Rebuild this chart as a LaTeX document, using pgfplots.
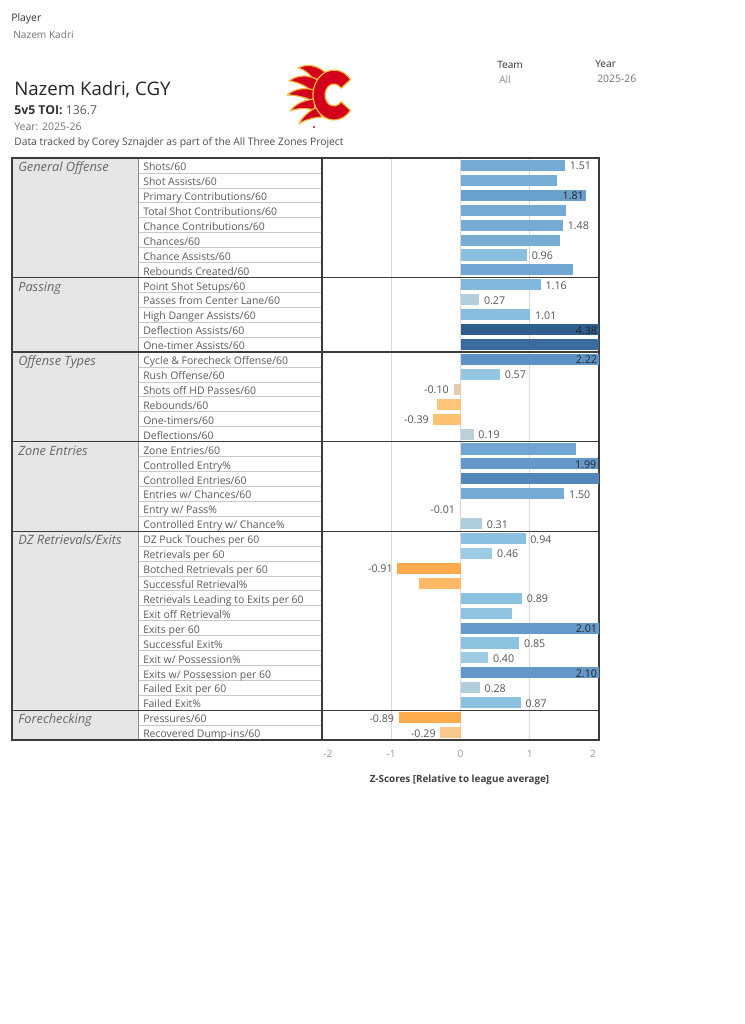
\documentclass[border=0pt]{standalone}
\usepackage{pgfplots}
\pgfplotsset{compat=1.18}
\usepackage{fontspec}
\setmainfont{Open Sans}
\newcommand{\fs}[1]{\fontsize{#1}{#1}\selectfont}
\definecolor{labc}{HTML}{555555}
\definecolor{tickc}{HTML}{999999}
\definecolor{gridc}{HTML}{D9D9D9}
\definecolor{borderc}{HTML}{3C3C3C}
\definecolor{rowsepc}{HTML}{C8C8C8}
\definecolor{groupfill}{HTML}{E6E6E6}
\definecolor{rowtext}{HTML}{5A5A5A}
\definecolor{inlabc}{HTML}{262626}
\definecolor{flred}{HTML}{D2001C}
\definecolor{flyel}{HTML}{F3BC3F}
\definecolor{b0}{HTML}{74AAD4}
\definecolor{b1}{HTML}{77ACD5}
\definecolor{b2}{HTML}{6AA0CC}
\definecolor{b3}{HTML}{74AAD4}
\definecolor{b4}{HTML}{75ABD5}
\definecolor{b5}{HTML}{77ACD5}
\definecolor{b6}{HTML}{8ABFE0}
\definecolor{b7}{HTML}{71A7D2}
\definecolor{b8}{HTML}{82B8DE}
\definecolor{b9}{HTML}{B3CFDB}
\definecolor{b10}{HTML}{88BDE0}
\definecolor{b11}{HTML}{2E5E8D}
\definecolor{b12}{HTML}{3A6B9C}
\definecolor{b13}{HTML}{5D93C4}
\definecolor{b14}{HTML}{92C6E3}
\definecolor{b15}{HTML}{E3CDAE}
\definecolor{b16}{HTML}{FDC47A}
\definecolor{b17}{HTML}{FDC170}
\definecolor{b18}{HTML}{BDD0D7}
\definecolor{b19}{HTML}{70A6D1}
\definecolor{b20}{HTML}{6499C9}
\definecolor{b21}{HTML}{5487B9}
\definecolor{b22}{HTML}{75ABD5}
\definecolor{b23}{HTML}{D9D2C8}
\definecolor{b24}{HTML}{AECEDD}
\definecolor{b25}{HTML}{8BC0E0}
\definecolor{b26}{HTML}{9BCBE5}
\definecolor{b27}{HTML}{FCAA4C}
\definecolor{b28}{HTML}{FDB966}
\definecolor{b29}{HTML}{8DC1E0}
\definecolor{b30}{HTML}{8FC3E1}
\definecolor{b31}{HTML}{6499C9}
\definecolor{b32}{HTML}{8DC1E0}
\definecolor{b33}{HTML}{9ECCE4}
\definecolor{b34}{HTML}{6297C7}
\definecolor{b35}{HTML}{B0CEDB}
\definecolor{b36}{HTML}{8DC1E0}
\definecolor{b37}{HTML}{FCAB4D}
\definecolor{b38}{HTML}{F6C88B}
\pgfplotsset{
  bb/.style={xbar, bar width=0.74, bar shift=0pt, draw=none, fill=#1},
  lr/.style={nodes near coords, point meta=explicit symbolic, nodes near coords align={anchor=west},
    every node near coord/.append style={font=\fs{8}, text=labc, inner sep=1pt, xshift=2.4pt, yshift=-0.5pt}},
  ll/.style={nodes near coords, point meta=explicit symbolic, nodes near coords align={anchor=east},
    every node near coord/.append style={font=\fs{8}, text=labc, inner sep=1pt, xshift=-2.4pt, yshift=-0.5pt}},
  li/.style={nodes near coords, point meta=explicit symbolic, nodes near coords align={anchor=east},
    every node near coord/.append style={font=\fs{8}, text=inlabc, inner sep=1pt, xshift=-0.3pt, yshift=-0.5pt}},
}
\newcommand{\RL}[2]{\node[anchor=base west, font=\fs{7.85}, text=rowtext, inner sep=0pt] at (143,{158+14.923*(#1+0.5)+5.2}) {#2};}
\newcommand{\GL}[2]{\node[anchor=base west, font=\fs{9.6}\itshape, text=black!60, inner sep=0pt] at (18,{158+14.923*(#1+0.5)+6.3}) {#2};}
\begin{document}
\begin{tikzpicture}
\path[use as bounding box, fill=white] (0,0) rectangle (558pt,-768pt);
\begin{scope}[x=0.75pt,y=-0.75pt]
  % header
  \node[anchor=base west, font=\fs{7.8}, text=black!80, inner sep=0pt] at (11,22) {Player};
  \node[anchor=base west, font=\fs{7.6}, text=black!55, inner sep=0pt] at (13,39) {Nazem Kadri};
  \node[anchor=base west, font=\fs{7.6}, text=black!80, inner sep=0pt] at (497,69) {Team};
  \node[anchor=base west, font=\fs{7.6}, text=black!45, inner sep=0pt] at (499,84) {All};
  \node[anchor=base west, font=\fs{7.6}, text=black!80, inner sep=0pt] at (595,68) {Year};
  \node[anchor=base west, font=\fs{7.8}, text=black!55, inner sep=0pt] at (597,83) {2025-26};
  \node[anchor=base west, font=\fs{14}, text=black!85, inner sep=0pt] at (14,95) {Nazem Kadri, CGY};
  \node[anchor=base west, font=\fs{9.2}, text=black!65, inner sep=0pt] at (14,114.5) {\textbf{\color{black!80}5v5 TOI:} 136.7};
  \node[anchor=base west, font=\fs{7.9}, text=black!55, inner sep=0pt] at (14,130) {Year: 2025-26};
  \node[anchor=base west, font=\fs{7.75}, text=black!70, inner sep=0pt] at (14,145) {Data tracked by Corey Sznajder as part of the All Three Zones Project};
  % logo
  \begin{scope}[fill=flred, draw=flyel, line width=0.9pt, line join=round]
    \filldraw (326,73) .. controls (316,64) and (306,64) .. (298,68) .. controls (306,70) and (312,76) .. (316,84) -- cycle;
    \filldraw (318,80) .. controls (308,74) and (297,75) .. (289,81) .. controls (298,82) and (306,86) .. (313,92) -- cycle;
    \filldraw (314,90) .. controls (304,87) and (294,89) .. (287,95) .. controls (296,95) and (304,97) .. (313,101) -- cycle;
    \filldraw (314,99) .. controls (304,100) and (295,104) .. (290,111) .. controls (298,108) and (306,108) .. (315,110) -- cycle;
    \filldraw (317,107) .. controls (309,111) and (302,117) .. (299,124) .. controls (306,119) and (313,118) .. (322,117) -- cycle;
    \filldraw ({334+21*cos(38)},{95+25*sin(38)}) arc[start angle=38,end angle=322,x radius=21,y radius=25]
      -- ({334+9*cos(322)},{95+11*sin(322)}) arc[start angle=322,end angle=38,x radius=9,y radius=11] -- cycle;
  \end{scope}
  \fill[flred] (314,127) circle (1.2);
  % left panel
  \fill[groupfill] (12,158) rectangle (138,740);
  \fill[white] (138,158) rectangle (322,740);
  \foreach \k in {1,...,38} \draw[rowsepc, line width=0.5pt] (138,{158+14.923*\k}) -- (322,{158+14.923*\k});
  \draw[black!45, line width=0.6pt] (138,158) -- (138,740);
  \GL{0}{General Offense}
  \GL{8}{Passing}
  \GL{13}{Offense Types}
  \GL{19}{Zone Entries}
  \GL{25}{DZ Retrievals/Exits}
  \GL{37}{Forechecking}
  \RL{0}{Shots/60}
  \RL{1}{Shot Assists/60}
  \RL{2}{Primary Contributions/60}
  \RL{3}{Total Shot Contributions/60}
  \RL{4}{Chance Contributions/60}
  \RL{5}{Chances/60}
  \RL{6}{Chance Assists/60}
  \RL{7}{Rebounds Created/60}
  \RL{8}{Point Shot Setups/60}
  \RL{9}{Passes from Center Lane/60}
  \RL{10}{High Danger Assists/60}
  \RL{11}{Deflection Assists/60}
  \RL{12}{One-timer Assists/60}
  \RL{13}{Cycle \& Forecheck Offense/60}
  \RL{14}{Rush Offense/60}
  \RL{15}{Shots off HD Passes/60}
  \RL{16}{Rebounds/60}
  \RL{17}{One-timers/60}
  \RL{18}{Deflections/60}
  \RL{19}{Zone Entries/60}
  \RL{20}{Controlled Entry\%}
  \RL{21}{Controlled Entries/60}
  \RL{22}{Entries w/ Chances/60}
  \RL{23}{Entry w/ Pass\%}
  \RL{24}{Controlled Entry w/ Chance\%}
  \RL{25}{DZ Puck Touches per 60}
  \RL{26}{Retrievals per 60}
  \RL{27}{Botched Retrievals per 60}
  \RL{28}{Successful Retrieval\%}
  \RL{29}{Retrievals Leading to Exits per 60}
  \RL{30}{Exit off Retrieval\%}
  \RL{31}{Exits per 60}
  \RL{32}{Successful Exit\%}
  \RL{33}{Exit w/ Possession\%}
  \RL{34}{Exits w/ Possession per 60}
  \RL{35}{Failed Exit per 60}
  \RL{36}{Failed Exit\%}
  \RL{37}{Pressures/60}
  \RL{38}{Recovered Dump-ins/60}
\end{scope}
\begin{axis}[
  at={(241.5pt,-555pt)}, anchor=south west,
  scale only axis, width=207.75pt, height=436.5pt,
  xmin=-2, xmax=2, ymin=-38.5, ymax=0.5,
  xtick={-2,-1,0,1,2},
  xticklabels={\hspace*{9pt}-2,-1,0,1,2\hspace*{9pt}},
  ytick=\empty,
  xmajorgrids, grid style={draw=gridc, line width=0.5pt},
  axis line style={draw=borderc, line width=0.8pt},
  major tick length=0pt,
  xticklabel style={font=\fs{7.6}, text=tickc, yshift=-4pt},
  clip mode=individual,
]
% General Offense
\addplot[bb=b0, lr] coordinates {(1.51,0) [1.51]};
\addplot[bb=b1] coordinates {(1.39,-1)};
\addplot[bb=b2] coordinates {(1.81,-2)};
\addplot[bb=b3] coordinates {(1.53,-3)};
\addplot[bb=b4, lr] coordinates {(1.48,-4) [1.48]};
\addplot[bb=b5] coordinates {(1.43,-5)};
\addplot[bb=b6, lr] coordinates {(0.96,-6) [0.96]};
\addplot[bb=b7] coordinates {(1.63,-7)};
% Passing
\addplot[bb=b8, lr] coordinates {(1.16,-8) [1.16]};
\addplot[bb=b9, lr] coordinates {(0.27,-9) [0.27]};
\addplot[bb=b10, lr] coordinates {(1.01,-10) [1.01]};
\addplot[bb=b11] coordinates {(4.38,-11)};
\addplot[bb=b12] coordinates {(3.30,-12)};
% Offense Types
\addplot[bb=b13] coordinates {(2.22,-13)};
\addplot[bb=b14, lr] coordinates {(0.57,-14) [0.57]};
\addplot[bb=b15, ll] coordinates {(-0.10,-15) [-0.10]};
\addplot[bb=b16] coordinates {(-0.34,-16)};
\addplot[bb=b17, ll] coordinates {(-0.39,-17) [-0.39]};
\addplot[bb=b18, lr] coordinates {(0.19,-18) [0.19]};
% Zone Entries
\addplot[bb=b19] coordinates {(1.67,-19)};
\addplot[bb=b20] coordinates {(1.99,-20)};
\addplot[bb=b21] coordinates {(2.60,-21)};
\addplot[bb=b22, lr] coordinates {(1.50,-22) [1.50]};
\addplot[bb=b23, ll] coordinates {(-0.01,-23) [-0.01]};
\addplot[bb=b24, lr] coordinates {(0.31,-24) [0.31]};
% DZ Retrievals/Exits
\addplot[bb=b25, lr] coordinates {(0.94,-25) [0.94]};
\addplot[bb=b26, lr] coordinates {(0.46,-26) [0.46]};
\addplot[bb=b27, ll] coordinates {(-0.91,-27) [-0.91]};
\addplot[bb=b28] coordinates {(-0.60,-28)};
\addplot[bb=b29, lr] coordinates {(0.89,-29) [0.89]};
\addplot[bb=b30] coordinates {(0.75,-30)};
\addplot[bb=b31] coordinates {(2.01,-31)};
\addplot[bb=b32, lr] coordinates {(0.85,-32) [0.85]};
\addplot[bb=b33, lr] coordinates {(0.40,-33) [0.40]};
\addplot[bb=b34] coordinates {(2.10,-34)};
\addplot[bb=b35, lr] coordinates {(0.28,-35) [0.28]};
\addplot[bb=b36, lr] coordinates {(0.87,-36) [0.87]};
% Forechecking
\addplot[bb=b37, ll] coordinates {(-0.89,-37) [-0.89]};
\addplot[bb=b38, ll] coordinates {(-0.29,-38) [-0.29]};
% labels set inside the bars
\addplot[draw=none, li] coordinates {(1.81,-2) [1.81] (2,-11) [4.38] (2,-13) [2.22] (1.99,-20) [1.99] (2,-31) [2.01] (2,-34) [2.10]};
\end{axis}
\begin{scope}[x=0.75pt,y=-0.75pt]
  \foreach \k in {8,13,19,25,37} \draw[borderc, line width=0.8pt] (12,{158+14.923*\k}) -- (599,{158+14.923*\k});
  \draw[borderc, line width=0.8pt] (322,158) -- (12,158) -- (12,740) -- (322,740);
  \node[font=\fs{7.4}\bfseries, text=black!75, inner sep=0pt] at (459.5,780) {Z-Scores [Relative to league average]};
\end{scope}
\end{tikzpicture}
\end{document}
